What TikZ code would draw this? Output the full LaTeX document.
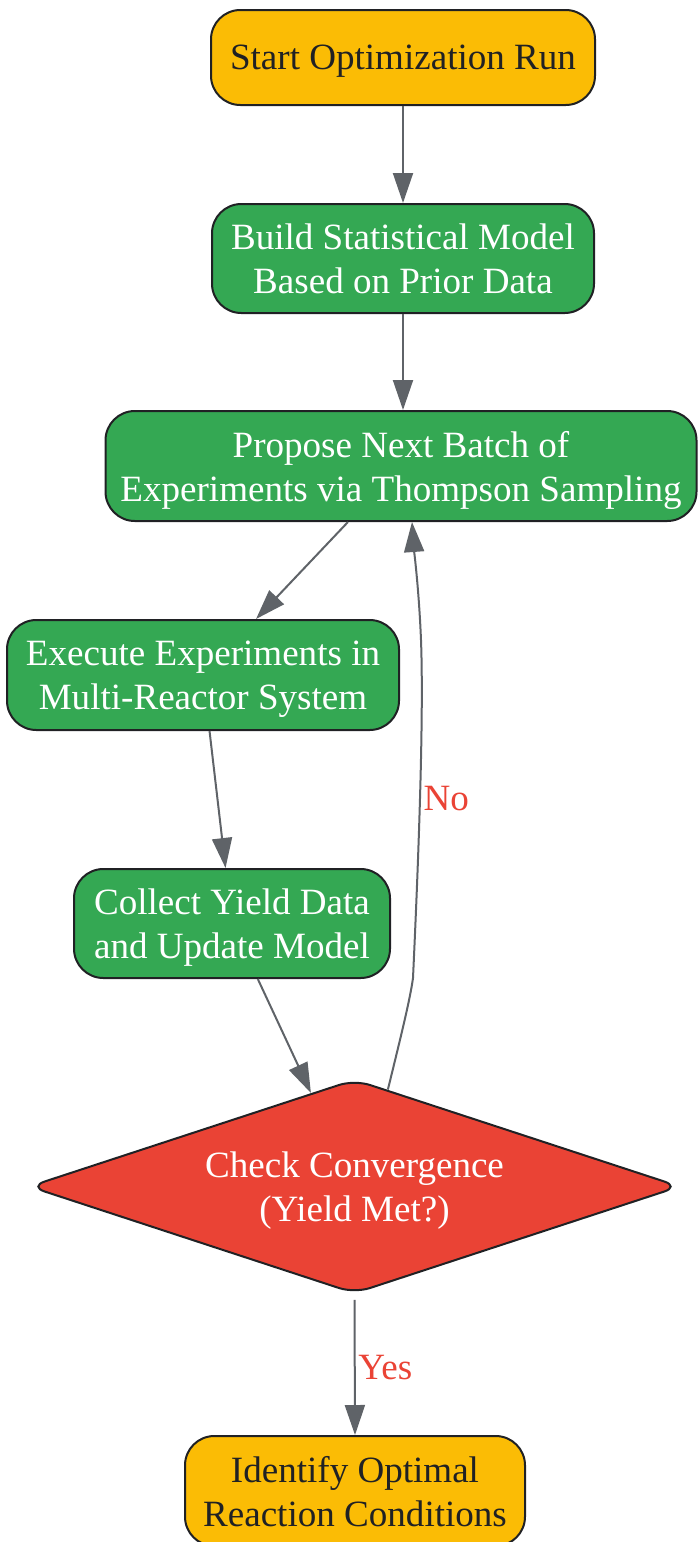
\documentclass[tikz,border=0pt]{standalone}
\usepackage{fontspec}
\setmainfont{Liberation Serif}
\usetikzlibrary{arrows.meta,shapes.geometric,calc}
\newlength\pxu
\setlength\pxu{0.75pt}
\definecolor{cyellow}{HTML}{FBBC05}
\definecolor{cgreen}{HTML}{34A853}
\definecolor{cred}{HTML}{EA4335}
\definecolor{cedge}{HTML}{5F6368}
\definecolor{cborder}{HTML}{202124}
\tikzset{
  base/.style={draw=cborder, line width=1.5pt, align=center, inner sep=0pt,
    text depth=-5pt, font=\fontsize{27.8pt}{33pt}\selectfont},
  boxnode/.style={base, rectangle, rounded corners=22pt},
  terminal/.style={boxnode, fill=cyellow, text=cborder},
  process/.style={boxnode, fill=cgreen, text=white},
  decision/.style={base, diamond, fill=cred, text=white, rounded corners=12pt,
    aspect=3.04},
  edge/.style={draw=cedge, line width=1.5pt,
    -{Triangle[length=22.5pt, width=15pt]}},
  elabel/.style={text=cred, font=\fontsize{27.8pt}{33pt}\selectfont, inner sep=2pt}
}
\begin{document}
\begin{tikzpicture}[x=0.75pt, y=-0.75pt]
\useasboundingbox (0,0) rectangle (697,1542);
\node[terminal, minimum width=384\pxu, minimum height=95\pxu] (start) at (403,57.5) {Start Optimization Run};
\node[process, minimum width=382\pxu, minimum height=109\pxu] (build) at (403,258.5) {Build Statistical Model\\Based on Prior Data};
\node[process, minimum width=591\pxu, minimum height=110\pxu] (prop) at (401,466) {Propose Next Batch of\\Experiments via Thompson Sampling};
\node[process, minimum width=392\pxu, minimum height=110\pxu] (exec) at (203,675) {Execute Experiments in\\Multi-Reactor System};
\node[process, minimum width=316\pxu, minimum height=109\pxu] (coll) at (232,923.5) {Collect Yield Data\\and Update Model};
\node[decision, minimum width=651\pxu, minimum height=214\pxu] (dec) at (354.5,1186.5) {Check Convergence\\(Yield Met?)};
\node[terminal, minimum width=340\pxu, minimum height=110\pxu] (ident) at (355,1491) {Identify Optimal\\Reaction Conditions};

\draw[edge] (start) -- (build);
\draw[edge] (build.south) -- (build.south |- prop.north);
\draw[edge] (prop) -- (exec);
\draw[edge] (exec) -- (coll);
\draw[edge] (coll) -- (dec);
\draw[edge] (dec.71) .. controls (400,1040) and (410,1000) .. (413,978)
  .. controls (418,870) and (424,720) .. (421,640) node[pos=0.5, elabel, right] {No}
  .. controls (419,590) and (414,550) .. ($(prop.south)+(11,0)$);
\draw[edge] ([yshift=-4pt]dec.south) -- (ident.north) node[pos=0.5, elabel, right] {Yes};
\end{tikzpicture}
\end{document}
